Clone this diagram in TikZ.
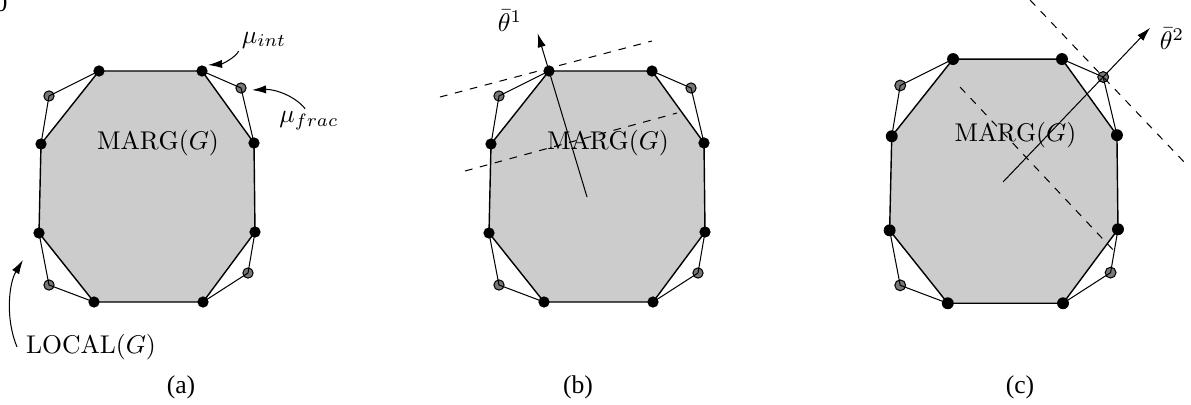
\documentclass[tikz,border=0pt]{standalone}
\usepackage{fontspec}
\usepackage{amsmath}
\usepackage{tikz}
\usetikzlibrary{arrows.meta,calc}
\newfontfamily\timesfont{Liberation Serif}
\definecolor{GrisMarg}{gray}{0.80}
\definecolor{GrisFrac}{gray}{0.47}

% one panel: MARG(G) octagon plus the LOCAL(G) corners; #1 = name prefix
\newcommand{\margpanel}[1]{%
  \coordinate (#1-tl) at (99,71);
  \coordinate (#1-tr) at (202,71);
  \coordinate (#1-ru) at (254,143);
  \coordinate (#1-rl) at (255,232);
  \coordinate (#1-br) at (203,302);
  \coordinate (#1-bl) at (94,302);
  \coordinate (#1-ll) at (39,233);
  \coordinate (#1-lu) at (41,144);
  \coordinate (#1-ftl) at (49,96);
  \coordinate (#1-ftr) at (241,88);
  \coordinate (#1-fbr) at (248,273);
  \coordinate (#1-fbl) at (49,285);
  \path[marg] (#1-tl) -- (#1-tr) -- (#1-ru) -- (#1-rl) -- (#1-br)
    -- (#1-bl) -- (#1-ll) -- (#1-lu) -- cycle;
  \foreach \f in {ftl,ftr,fbr,fbl}
    \path[fracpt] (#1-\f) circle[radius=2pt];
  \draw[localedge] (#1-lu) -- (#1-ftl) -- (#1-tl)
    (#1-tr) -- (#1-ftr) -- (#1-ru)
    (#1-rl) -- (#1-fbr) -- (#1-br)
    (#1-bl) -- (#1-fbl) -- (#1-ll);
  \foreach \v in {tl,tr,ru,rl,br,bl,ll,lu}
    \fill[intpt] (#1-\v) circle[radius=2.2pt];
  \node (#1-marg) at (158,143) {$\mathrm{MARG}(G)$};
}

\begin{document}
\begin{tikzpicture}[x=0.39pt,y=-0.39pt,>={Latex[length=5.5pt,width=3.2pt]},
  marg/.style={draw,line width=0.55pt,fill=GrisMarg},
  localedge/.style={line width=0.4pt},
  intpt/.style={fill=black},
  fracpt/.style={draw,line width=0.4pt,fill=GrisFrac},
  cutline/.style={dashed,line width=0.4pt},
  panellabel/.style={font=\timesfont}]
  \useasboundingbox (0,0) rectangle (1191,404);
  \node[panellabel] (pgno) at (1,3.5) {0};

  % (a) the two polytopes and their names
  \margpanel{a}
  \node[inner sep=1pt] (a-mint) at (264,40) {$\mu_{int}$};
  \coordinate (a-mint-tip) at (208,65);
  \draw[->] (a-mint.south west) .. controls (235,58) and (222,64) .. (a-mint-tip);
  \node[inner sep=1pt] (a-mfrac) at (309,121) {$\mu_{frac}$};
  \coordinate (a-mfrac-tip) at (252,90);
  \draw[->] ([xshift=-1.5pt]a-mfrac.north) .. controls (295,96) and (275,89) .. (a-mfrac-tip);
  \node (a-local) at (91,347) {$\mathrm{LOCAL}(G)$};
  \coordinate (a-local-tip) at (23,260);
  \draw[->] (a-local.west) .. controls (5,318) and (9,283) .. (a-local-tip);
  \node[panellabel] (a-lab) at (181,387) {(a)};

  % (b) cost vector with an integral optimum
  \begin{scope}[shift={(450,0)}]
    \margpanel{b}
  \end{scope}
  \draw[cutline] (440,97) -- (652,41);
  \draw[cutline] (465,171) -- (677,113);
  \coordinate (b-base) at (587,197);
  \coordinate (b-tip) at ($(b-base)!1.3!(b-tl)$);
  \draw[->] (b-base) -- (b-tip);
  \node (b-theta) at (510,21) {$\bar\theta^1$};
  \node[panellabel] (b-lab) at (578,387) {(b)};

  % (c) cost vector with a fractional optimum
  \begin{scope}[shift={(848.4,-16)},scale=1.057]
    \margpanel{c}
  \end{scope}
  \draw[cutline] (1030,0) -- (1185,163);
  \draw[cutline] (960,87) -- (1116,253);
  \coordinate (c-base) at (1003,182);
  \coordinate (c-tip) at ($(c-base)!1.47!(c-ftr)$);
  \draw[->] (c-base) -- (c-tip);
  \node (c-theta) at (1172,39) {$\bar\theta^2$};
  \node[panellabel] (c-lab) at (1020,387) {(c)};
\end{tikzpicture}
\end{document}
